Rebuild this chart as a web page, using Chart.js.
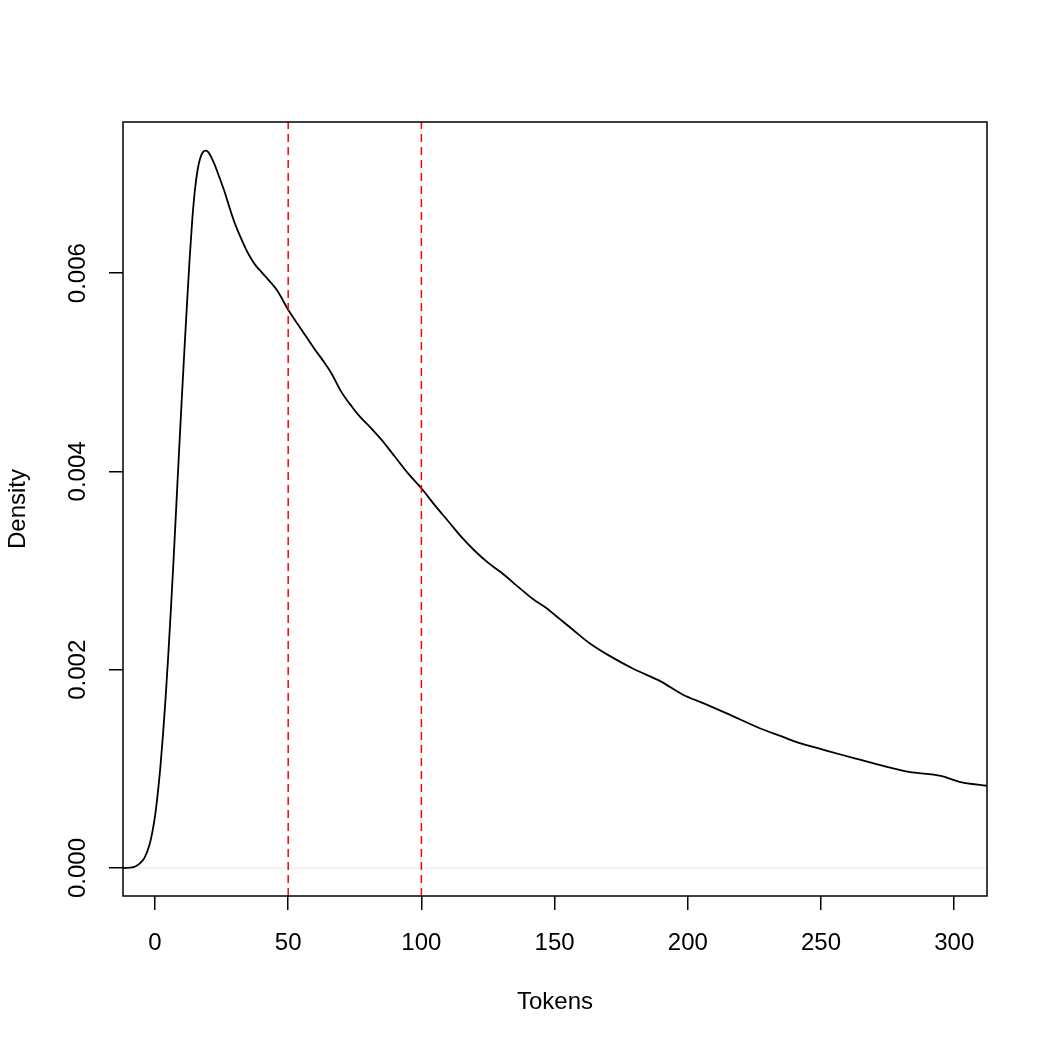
<!DOCTYPE html>
<html>
<head>
<meta charset="utf-8">
<script src="https://cdn.jsdelivr.net/npm/chart.js@4/dist/chart.umd.min.js"></script>
<style>
  html, body { margin: 0; padding: 0; background: #ffffff; }
  #wrap { width: 1050px; height: 1050px; }
</style>
</head>
<body>
<div id="wrap"><canvas id="c" width="1050" height="1050"></canvas></div>
<script>
// ---- data ----
const tokens = [-12, -8, -6, -4, -2, -1, 0, 1, 2, 3, 4, 5, 6, 7, 8, 9, 10, 11, 12, 13, 14, 15, 16, 17, 18, 19, 20, 22, 24, 26, 28, 30, 32, 34, 36, 38, 40, 43, 46, 50, 55, 60, 63, 66, 70, 74, 77, 81, 85, 90, 95, 100, 105, 110, 115, 120, 125, 130, 137, 142, 147, 152, 157, 163, 170, 179.5, 190, 198, 206, 214.6, 227, 235, 242, 250, 258, 265, 272, 283, 295, 302, 312.3];
const density = [0, 0.00001, 0.00004, 0.0001, 0.00024, 0.00036, 0.00052, 0.00074, 0.00101, 0.00134, 0.00172, 0.00215, 0.00262, 0.00312, 0.00365, 0.00418, 0.0047, 0.0052, 0.00568, 0.00614, 0.00654, 0.00684, 0.00704, 0.00716, 0.00722, 0.007235, 0.00722, 0.00712, 0.00698, 0.00683, 0.00666, 0.0065, 0.00637, 0.00625, 0.00615, 0.00607, 0.00601, 0.00592, 0.00582, 0.00563, 0.00543, 0.00523, 0.00512, 0.005, 0.0048, 0.00465, 0.00455, 0.00444, 0.00432, 0.00415, 0.00398, 0.00383, 0.00366, 0.0035, 0.00334, 0.0032, 0.00308, 0.00298, 0.00282, 0.00271, 0.00262, 0.00251, 0.0024, 0.00227, 0.00215, 0.00201, 0.00188, 0.00175, 0.00166, 0.00156, 0.00141, 0.00133, 0.00126, 0.0012, 0.00114, 0.00109, 0.00104, 0.00097, 0.00093, 0.00087, 0.00083];
const cutoffs = [50, 100];
const xTicks = [0, 50, 100, 150, 200, 250, 300];
const yTicks = [0, 0.002, 0.004, 0.006];
const yTickLabels = ["0.000", "0.002", "0.004", "0.006"];
const xTitle = "Tokens";
const yTitle = "Density";

// axis ranges (R style 4% extension)
const xMin = -12.0, xMax = 312.3;
const yMin = -0.000282, yMax = 0.007524;

const FONT = "'Liberation Sans', Arial, Helvetica, sans-serif";
const FS = 24;

const curvePts = tokens.map((t, i) => ({ x: t, y: density[i] }));

const datasets = [];
cutoffs.forEach(v => {
  datasets.push({
    data: [{ x: v, y: yMin }, { x: v, y: yMax }],
    borderColor: '#ff0000',
    borderWidth: 1.5,
    borderDash: [8, 5],
    pointRadius: 0,
    tension: 0,
    order: 0
  });
});
datasets.push({
  data: curvePts,
  borderColor: '#000000',
  borderWidth: 1.8,
  pointRadius: 0,
  tension: 0.4,
  cubicInterpolationMode: 'monotone',
  order: 1
});
datasets.push({
  data: [{ x: xMin, y: 0 }, { x: xMax, y: 0 }],
  borderColor: '#e6e6e6',
  borderWidth: 1,
  pointRadius: 0,
  order: 2
});

const boxPlugin = {
  id: 'rbox',
  afterDraw(chart) {
    const { ctx, chartArea: a } = chart;
    ctx.save();
    ctx.strokeStyle = '#000';
    ctx.lineWidth = 1.5;
    ctx.strokeRect(a.left, a.top, a.right - a.left, a.bottom - a.top);
    // rotated y tick labels (R las=0 style)
    const ys = chart.scales.y;
    ctx.fillStyle = '#000';
    ctx.font = FS + 'px ' + FONT;
    ctx.textAlign = 'center';
    ctx.textBaseline = 'middle';
    yTicks.forEach((v, i) => {
      const py = ys.getPixelForValue(v);
      ctx.save();
      ctx.translate(78, py);
      ctx.rotate(-Math.PI / 2);
      ctx.fillText(yTickLabels[i], 0, 0);
      ctx.restore();
    });
    ctx.restore();
  }
};

new Chart(document.getElementById('c'), {
  type: 'line',
  data: { datasets },
  options: {
    responsive: false,
    animation: false,
    events: [],
    layout: { padding: { top: 122, right: 63, left: 0, bottom: 0 } },
    plugins: { legend: { display: false }, tooltip: { enabled: false } },
    scales: {
      x: {
        type: 'linear',
        min: xMin,
        max: xMax,
        afterBuildTicks: s => { s.ticks = xTicks.map(v => ({ value: v })); },
        afterFit: s => { s.height = 154; },
        border: { display: false },
        grid: { drawOnChartArea: false, drawTicks: true, tickLength: 14, color: '#000', tickColor: '#000', lineWidth: 1.5 },
        ticks: {
          autoSkip: false, maxRotation: 0, minRotation: 0, padding: 19,
          color: '#000', font: { family: FONT, size: FS },
          callback: v => String(v)
        },
        title: {
          display: true, text: xTitle, color: '#000',
          font: { family: FONT, size: FS }, padding: { top: 0, bottom: 33 }
        }
      },
      y: {
        type: 'linear',
        min: yMin,
        max: yMax,
        afterBuildTicks: s => { s.ticks = yTicks.map(v => ({ value: v })); },
        afterFit: s => { s.width = 123; },
        border: { display: false },
        grid: { drawOnChartArea: false, drawTicks: true, tickLength: 14, color: '#000', tickColor: '#000', lineWidth: 1.5 },
        ticks: { display: true, callback: () => '', font: { family: FONT, size: FS } },
        title: {
          display: true, text: yTitle, color: '#000',
          font: { family: FONT, size: FS }, padding: { top: 4, bottom: 0 }
        }
      }
    }
  },
  plugins: [boxPlugin]
});
</script>
</body>
</html>
